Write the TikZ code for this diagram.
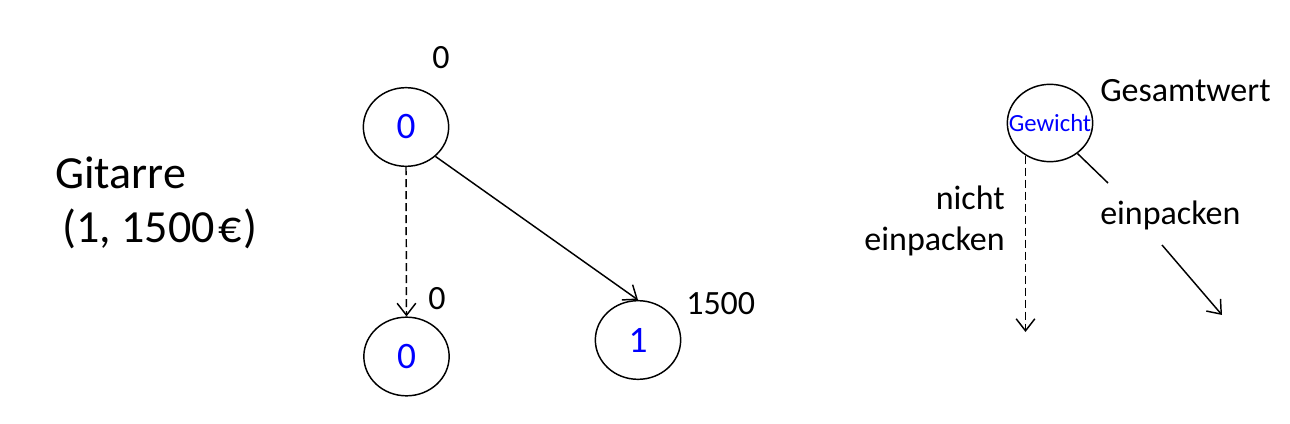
\documentclass[tikz,border=0pt]{standalone}
\usepackage{fontspec}
\setmainfont{Carlito}
\usetikzlibrary{arrows.meta,shapes.geometric}
\begin{document}
\begin{tikzpicture}[x=0.75pt,y=-0.75pt,
  knot/.style={draw,ellipse,line width=1.1pt,inner sep=0pt,minimum width=64pt,minimum height=59pt,text=blue,font=\fontsize{28}{32}\selectfont},
  big/.style={inner sep=0pt,font=\fontsize{34.5}{40}\selectfont},
  mid/.style={inner sep=0pt,font=\fontsize{25.5}{30}\selectfont},
  small/.style={inner sep=0pt,text=blue,font=\fontsize{18.5}{20}\selectfont},
  conn/.style={line width=1.1pt,-{Straight Barb[length=9pt,width=14pt,line width=1.1pt]}},
  dconn/.style={conn,dash pattern=on 6pt off 3pt}]
\useasboundingbox (0,0) rectangle (1290,424);
% left text
\node[big,anchor=base west] (g1) at (55,189) {Gitarre};
\node[big,anchor=base west] (g2) at (62,243) {(1, 1500\kern3pt€\kern1pt)};
% tree
\node[knot] (top) at (406,127) {0};
\node[knot] (bl) at (406.5,356.5) {0};
\node[knot] (br) at (638,340) {1};
\node[mid,anchor=base] (l1) at (441,69) {0};
\node[mid,anchor=base] (l2) at (437,310) {0};
\node[mid,anchor=base west] (l3) at (686,315) {1500};
\draw[dconn] (top.south) -- (bl.north);
\draw[conn] (top.-45) -- (br.north);
% legend
\node[knot,minimum height=58pt] (lg) at (1050,123) {};
\node[small] (lgt) at (lg.center) {Gewicht};
\node[mid,anchor=base west] (gw) at (1100,102) {Gesamtwert};
\node[mid,anchor=base east] (n1) at (1005,210) {nicht};
\node[mid,anchor=base east] (n2) at (1005,251) {einpacken};
\node[mid,anchor=base west] (e1) at (1100,225) {einpacken};
\coordinate (d1) at (1022,332);
\coordinate (s1) at (1108,183);
\coordinate (s2) at (1162,245);
\coordinate (s3) at (1222,315);
\draw[dconn] (lg.-127) -- (lg.-127 |- d1);
\draw[line width=1.1pt] (lg.-48) -- (s1);
\draw[conn] (s2) -- (s3);
\end{tikzpicture}
\end{document}
